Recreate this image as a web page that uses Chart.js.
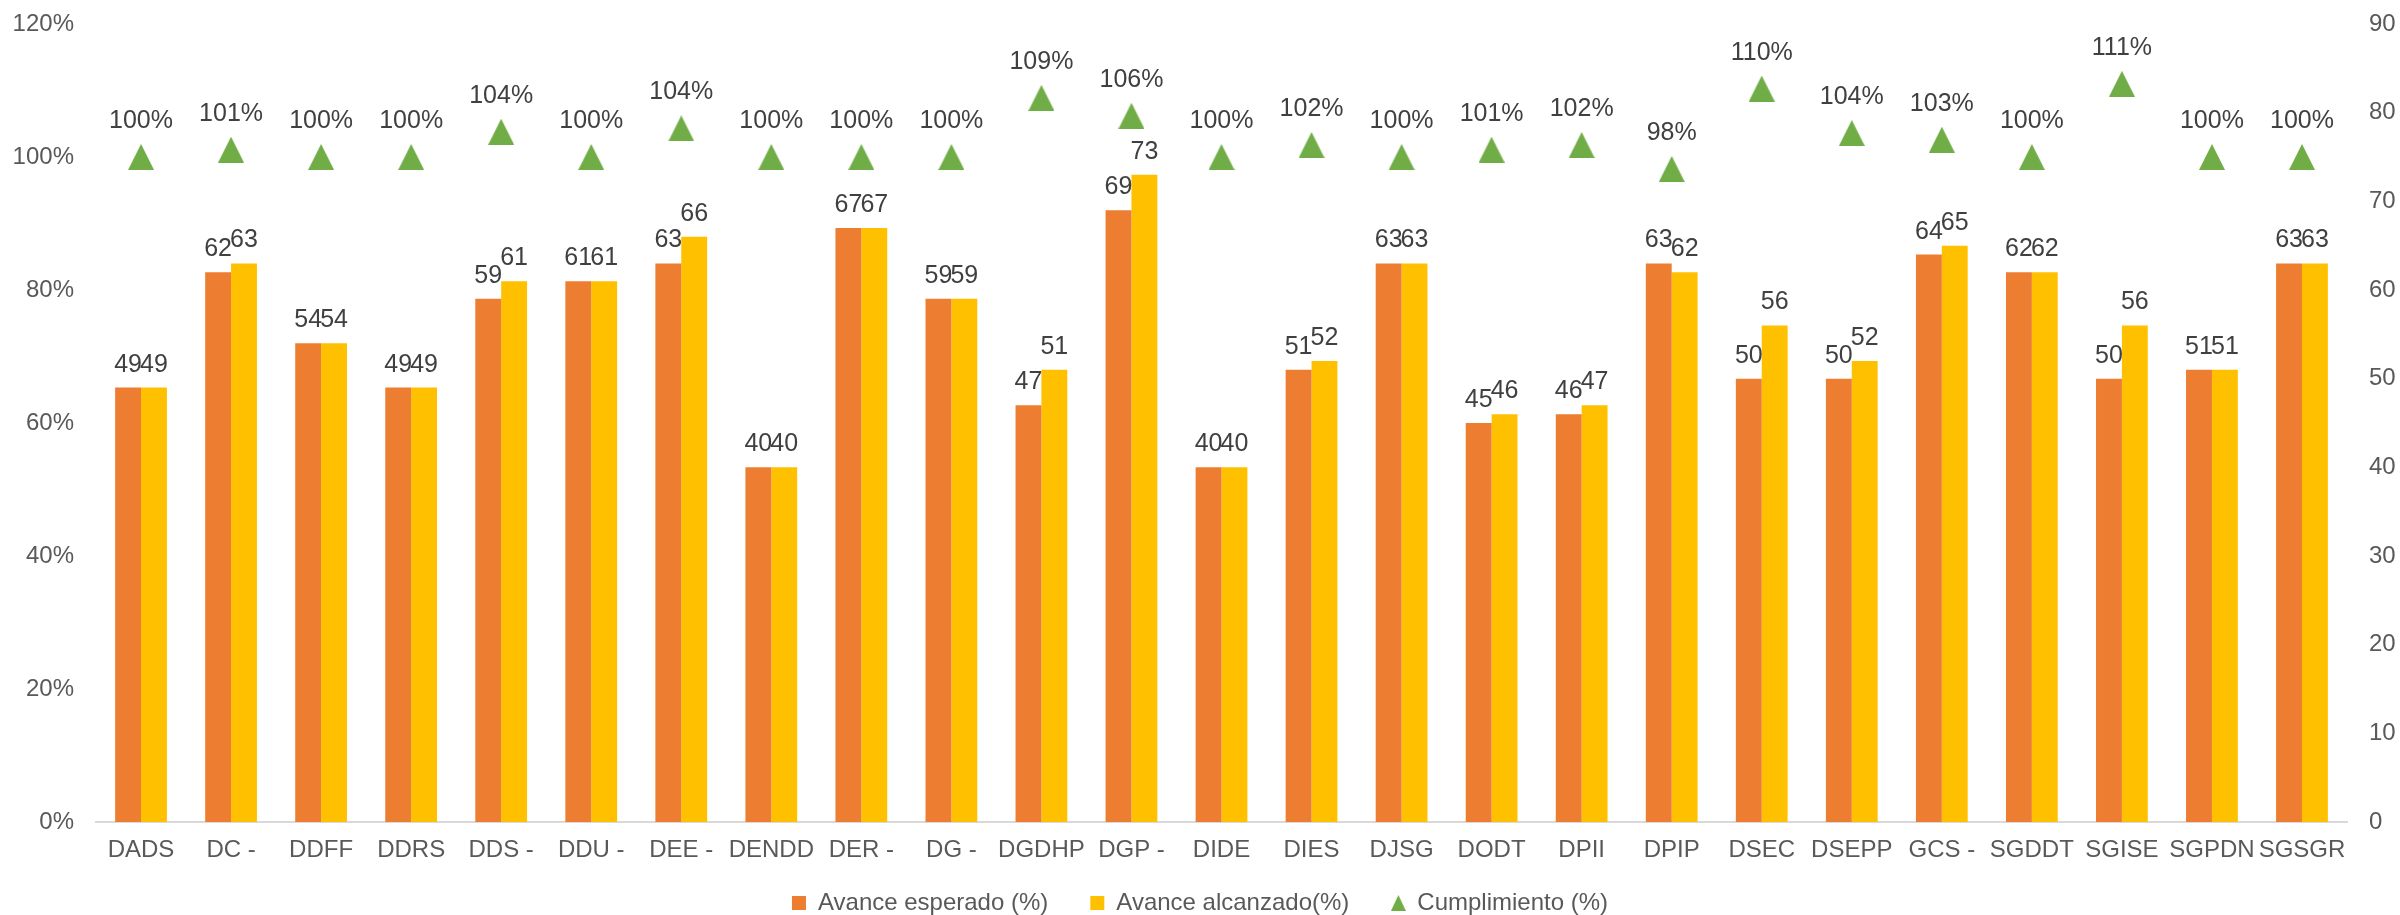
<!DOCTYPE html>
<html lang="es">
<head>
    <meta charset="UTF-8">
    <title>Avance por dependencia</title>
    <style>
        * { margin: 0; padding: 0; box-sizing: border-box; }
        body { background: #ffffff; }
        .wrap { width: 2400px; height: 915px; }
    </style>
    <script src="https://cdn.jsdelivr.net/npm/chart.js"></script>
</head>
<body>
    <div class="wrap">
        <canvas id="grafico" width="2400" height="915"></canvas>
    </div>
    <script>
        // datos
        const categorias = ['DADS', 'DC -', 'DDFF', 'DDRS', 'DDS -', 'DDU -', 'DEE -', 'DENDD', 'DER -', 'DG -',
            'DGDHP', 'DGP -', 'DIDE', 'DIES', 'DJSG', 'DODT', 'DPII', 'DPIP', 'DSEC', 'DSEPP',
            'GCS -', 'SGDDT', 'SGISE', 'SGPDN', 'SGSGR'];
        const avanceEsperado = [49, 62, 54, 49, 59, 61, 63, 40, 67, 59, 47, 69, 40, 51, 63, 45, 46, 63, 50, 50, 64, 62, 50, 51, 63];
        const avanceAlcanzado = [49, 63, 54, 49, 61, 61, 66, 40, 67, 59, 51, 73, 40, 52, 63, 46, 47, 62, 56, 52, 65, 62, 56, 51, 63];
        const cumplimiento = [100, 101.1, 100, 100, 103.8, 100, 104.3, 100, 100, 100, 108.9, 106.2, 100, 101.8, 100,
            101.1, 101.8, 98.2, 110.3, 103.6, 102.6, 100, 111, 100, 100];

        const fuente = '"Liberation Sans", Arial, sans-serif';
        const gris = '#595959';

        function triangulo(w, h) {
            const c = document.createElement('canvas');
            c.width = w; c.height = h;
            const g = c.getContext('2d');
            g.fillStyle = '#70AD47';
            g.beginPath();
            g.moveTo(w / 2, 0);
            g.lineTo(w, h);
            g.lineTo(0, h);
            g.closePath();
            g.fill();
            return c;
        }
        const trianguloPunto = triangulo(26, 26);
        const trianguloLeyenda = triangulo(15, 16);

        // etiquetas de datos encima de barras y marcadores
        const etiquetas = {
            id: 'etiquetas',
            afterDatasetsDraw(chart) {
                const ctx = chart.ctx;
                ctx.save();
                ctx.fillStyle = '#404040';
                ctx.font = '25px ' + fuente;
                ctx.textAlign = 'center';
                ctx.textBaseline = 'alphabetic';
                chart.data.datasets.forEach((ds, i) => {
                    const meta = chart.getDatasetMeta(i);
                    meta.data.forEach((el, j) => {
                        const v = ds.data[j];
                        if (meta.type === 'bar') {
                            ctx.fillText(String(v), el.x, el.y - 16);
                        } else {
                            ctx.fillText(Math.round(v) + '%', el.x, el.y - 29);
                        }
                    });
                });
                ctx.restore();
            }
        };

        // ancho fijo del eje vertical, sin relleno extra arriba/abajo
        function ajustarEjeY(ancho) {
            return s => {
                s.width = ancho;
                s.paddingTop = 0;
                s.paddingBottom = 0;
            };
        }

        new Chart(document.getElementById('grafico'), {
            data: {
                labels: categorias,
                datasets: [
                    {
                        type: 'bar',
                        label: 'Avance esperado (%)',
                        data: avanceEsperado,
                        backgroundColor: '#ED7D31',
                        yAxisID: 'y1',
                        categoryPercentage: 0.575,
                        barPercentage: 1
                    },
                    {
                        type: 'bar',
                        label: 'Avance alcanzado(%)',
                        data: avanceAlcanzado,
                        backgroundColor: '#FFC000',
                        yAxisID: 'y1',
                        categoryPercentage: 0.575,
                        barPercentage: 1
                    },
                    {
                        type: 'line',
                        label: 'Cumplimiento (%)',
                        data: cumplimiento,
                        showLine: false,
                        pointStyle: trianguloPunto,
                        pointRadius: 13,
                        backgroundColor: '#70AD47',
                        borderColor: '#70AD47',
                        yAxisID: 'y'
                    }
                ]
            },
            options: {
                responsive: false,
                animation: false,
                devicePixelRatio: 1,
                layout: { padding: { top: 24, left: 0, right: 0, bottom: -10 } },
                scales: {
                    x: {
                        grid: { display: false, drawTicks: false },
                        border: { display: true, color: '#D9D9D9', width: 2 },
                        ticks: {
                            color: gris, font: { family: fuente, size: 24 },
                            autoSkip: false, maxRotation: 0, padding: 14
                        },
                        afterFit(s) {
                            s.height = 27;
                            // no recortar las etiquetas a la caja del eje
                            s._computeLabelArea = () => undefined;
                        }
                    },
                    y: {
                        position: 'left',
                        min: 0, max: 120,
                        grid: { display: false, drawTicks: false },
                        border: { display: false },
                        ticks: {
                            stepSize: 20, color: gris, padding: 22,
                            font: { family: fuente, size: 24 },
                            callback: v => v + '%'
                        },
                        afterFit: ajustarEjeY(96)
                    },
                    y1: {
                        position: 'right',
                        min: 0, max: 90,
                        grid: { display: false, drawTicks: false },
                        border: { display: false },
                        ticks: {
                            stepSize: 10, color: gris, padding: 22,
                            font: { family: fuente, size: 24 }
                        },
                        afterFit: ajustarEjeY(53)
                    }
                },
                plugins: {
                    tooltip: { enabled: false },
                    legend: {
                        position: 'bottom',
                        labels: {
                            color: gris,
                            font: { family: fuente, size: 24 },
                            usePointStyle: true,
                            boxWidth: 14, boxHeight: 14, pointStyleWidth: 14,
                            padding: 42,
                            generateLabels(chart) {
                                const items = Chart.defaults.plugins.legend.labels.generateLabels(chart);
                                items.forEach((it, i) => {
                                    it.pointStyle = i < 2 ? 'rect' : trianguloLeyenda;
                                    it.lineWidth = 0;
                                    it.strokeStyle = 'rgba(0,0,0,0)';
                                });
                                return items;
                            }
                        }
                    }
                }
            },
            plugins: [etiquetas]
        });
    </script>
</body>
</html>
